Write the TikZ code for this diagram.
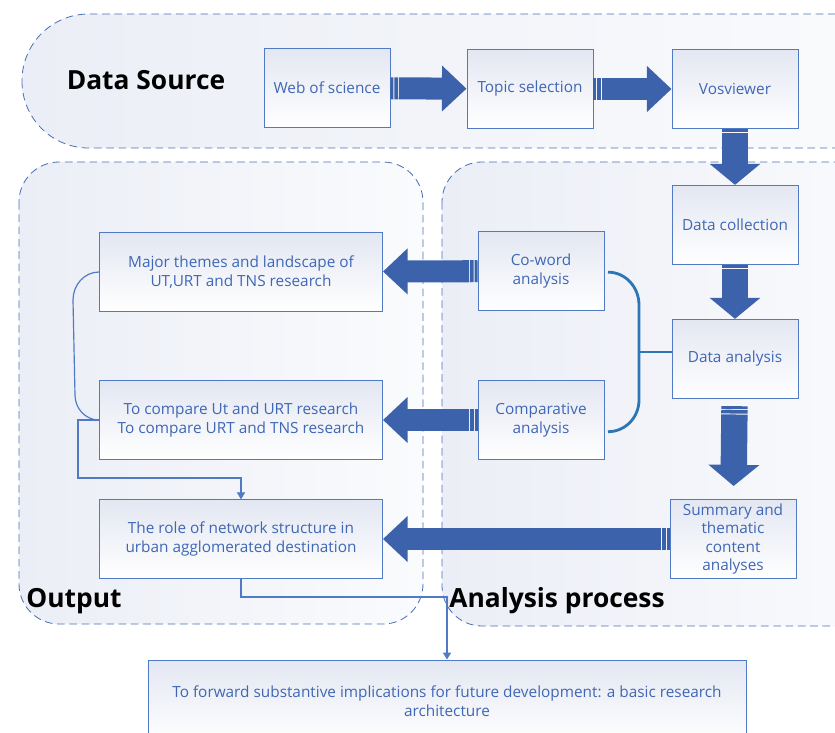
\documentclass[tikz,border=0pt]{standalone}
\usepackage{fontspec}
\setmainfont{Open Sans}
\usepackage{tikz}
\usetikzlibrary{arrows.meta,positioning}
\definecolor{boxline}{HTML}{5079C6}
\definecolor{boxtop}{HTML}{E3E7F2}
\definecolor{txtblue}{HTML}{3F67B5}
\definecolor{fatblue}{HTML}{3D62AC}
\definecolor{dashblue}{HTML}{4A70B8}
\definecolor{bracketblue}{HTML}{2E75B6}
\definecolor{regleft}{HTML}{EBEEF6}
\definecolor{regright}{HTML}{FAFBFD}

\begin{document}
\begin{tikzpicture}[x=0.03cm,y=-0.03cm,
  box/.style={draw=boxline, line width=0.8pt, top color=boxtop, bottom color=white,
    text=txtblue, font=\fontsize{13.1}{15.8}\selectfont, align=center,
    inner sep=2pt, minimum width=3.78cm, minimum height=2.38cm},
  widebox/.style={box, minimum width=8.49cm, minimum height=2.35cm},
  region/.style={draw=dashblue, dash pattern=on 6.5pt off 4pt, line width=0.7pt,
    left color=regleft, right color=regright},
  title/.style={font=\fontsize{22.5}{27}\selectfont\bfseries, text=black},
  fat/.style={draw=fatblue, line width=18.8pt, line cap=butt,
    dash pattern=on 2.5pt off 0.8pt on 3pt off 0.8pt on 400pt,
    -{Triangle[length=21pt,width=38pt]}},
  fatv/.style={fat, line width=22.5pt, -{Triangle[length=18pt,width=42.5pt]}},
  link/.style={draw=boxline, line width=1pt},
  brace/.style={draw=bracketblue, line width=2.4pt}]

\useasboundingbox (0,0) rectangle (835,733);
\clip (0,0) rectangle (835,733);

% regions
\draw[region, rounded corners=2cm] (22,14) rectangle (900,148);
\draw[region, rounded corners=1.2cm] (19,162) rectangle (423,624);
\draw[region, rounded corners=1.2cm] (442,162) rectangle (900,626);

\node (dstitle) at (146,80) [title]{Data Source};
\node (outtitle) at (74,601) [title]{Output};
\node (antitle) at (557,601) [title]{Analysis process};

% data source
\node (web) at (327,88) [box]{Web of science};
\node (topic) at (530,89) [box]{Topic selection};
\node (vos) at (735,89) [box]{Vosviewer};

% analysis process
\node (collect) at (735,225) [box]{Data collection};
\node (analysis) at (735,359) [box]{Data analysis};
\node (summary) at (733,539) [box]{Summary and\\thematic\\content\\analyses};
\node (coword) at (541,271) [box]{Co-word\\analysis};
\node (compar) at (541,420) [box]{Comparative\\analysis};

% output
\node (major) at (241,272) [widebox]{Major themes and landscape of\\UT,URT and TNS research};
\node (compare) at (241,420) [widebox]{To compare Ut and URT research\\To compare URT and TNS research};
\node (role) at (241,539) [widebox]{The role of network structure in\\urban agglomerated destination};
\node (final) at (447,701) [box, minimum width=17.94cm, minimum height=2.46cm]{To forward substantive implications for future development: a basic research\\architecture};

% fat arrows
\draw[fat] (web) -- (topic);
\draw[fat] (topic) -- (vos);
\draw[fatv] (vos) -- (collect);
\draw[fatv] (collect) -- (analysis);
\draw[fatv, shorten <=6pt, shorten >=11pt] (analysis) -- (summary);
\draw[fat] (coword) -- (major);
\draw[fat] (compar) -- (compare);
\draw[fat] (summary) -- (role);

% bracket
\coordinate (bend) at (639,352);
\draw[brace] ([xshift=3pt,yshift=-1pt]coword.east) to[out=0,in=90] (639,305) -- (639,400)
  to[out=-90,in=0] ([xshift=3pt,yshift=-10pt]compar.east);
\draw[brace] (bend) -- (bend -| analysis.west);

% thin links
\draw[link] (major.west) to[out=180,in=90] (73,300) -- (75,395) to[out=-90,in=180] (compare.west);
\draw[link, -{Triangle[length=6pt,width=7pt]}] (compare.west) -| (78,478) -| (role.north);
\coordinate (turn) at (447,597);
\draw[link, -{Triangle[length=6pt,width=7pt]}] (role.south) |- (turn) -- (final.north);

\end{tikzpicture}
\end{document}
